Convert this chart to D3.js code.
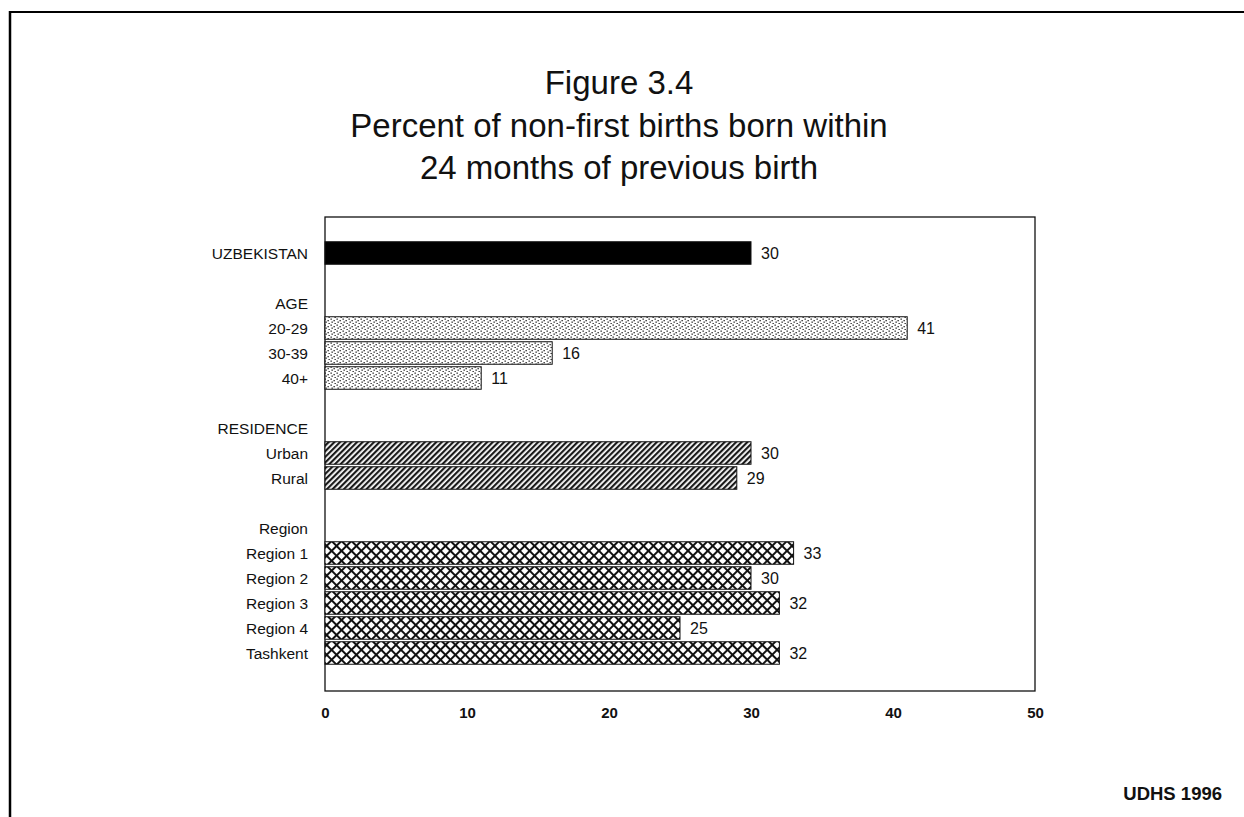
<!DOCTYPE html>
<html><head><meta charset="utf-8">
<script src="https://cdn.jsdelivr.net/npm/d3@7"></script>
<style>
html,body{margin:0;padding:0;background:#fff;}
svg{display:block;font-family:"Liberation Sans",Arial,sans-serif;}
</style></head>
<body>
<svg id="chart" width="1244" height="817"></svg>
<script>
// ---- data ----
const titleLines = ["Figure 3.4", "Percent of non-first births born within", "24 months of previous birth"];
const rowLabels = ["UZBEKISTAN", "", "AGE", "20-29", "30-39", "40+", "", "RESIDENCE", "Urban", "Rural", "", "Region", "Region 1", "Region 2", "Region 3", "Region 4", "Tashkent"];
const rowValues = [30, null, null, 41, 16, 11, null, null, 30, 29, null, null, 33, 30, 32, 25, 32];
const rowGroups = ["total", "", "", "age", "age", "age", "", "", "res", "res", "", "", "reg", "reg", "reg", "reg", "reg"];
const xTicks = [0, 10, 20, 30, 40, 50];
const sourceNote = "UDHS 1996";

const svg = d3.select("#chart");
const W = 1244, H = 817;
const plot = {left: 325, right: 1035, top: 217, bottom: 691};

// frame of the scanned page
svg.append("line").attr("x1", 10).attr("x2", W).attr("y1", 12).attr("y2", 12).attr("stroke", "#000").attr("stroke-width", 2);
svg.append("line").attr("x1", 10).attr("x2", 10).attr("y1", 11).attr("y2", H).attr("stroke", "#000").attr("stroke-width", 2.5);

// patterns
const defs = svg.append("defs");
// stipple (age)
const pDot = defs.append("pattern").attr("id", "dots").attr("patternUnits", "userSpaceOnUse").attr("width", 6).attr("height", 6);
pDot.append("rect").attr("width", 6).attr("height", 6).attr("fill", "#fff");
[[0.5,0.5],[3.5,2],[1.5,3.5],[4.5,5]].forEach(p => pDot.append("rect").attr("x", p[0]).attr("y", p[1]).attr("width", 1.3).attr("height", 1.3).attr("fill", "#222"));
// diagonal hatch (residence)
const pHatch = defs.append("pattern").attr("id", "hatch").attr("patternUnits", "userSpaceOnUse").attr("width", 4).attr("height", 4).attr("patternTransform", "rotate(45)");
pHatch.append("rect").attr("width", 4).attr("height", 4).attr("fill", "#fff");
pHatch.append("rect").attr("x", 0).attr("y", 0).attr("width", 2.2).attr("height", 4).attr("fill", "#1a1a1a");
// crosshatch (region)
const pCross = defs.append("pattern").attr("id", "cross").attr("patternUnits", "userSpaceOnUse").attr("width", 7).attr("height", 7).attr("patternTransform", "rotate(45)");
pCross.append("rect").attr("width", 7).attr("height", 7).attr("fill", "#fff");
pCross.append("rect").attr("x", 0).attr("y", 0).attr("width", 2).attr("height", 7).attr("fill", "#111");
pCross.append("rect").attr("x", 0).attr("y", 0).attr("width", 7).attr("height", 2).attr("fill", "#111");

const fills = {total: "#000", age: "url(#dots)", res: "url(#hatch)", reg: "url(#cross)"};

// title
const tY = [94, 137, 179];
titleLines.forEach((t, i) => {
  svg.append("text").attr("x", 619).attr("y", tY[i]).attr("text-anchor", "middle")
    .attr("font-size", 33).attr("fill", "#111").text(t);
});

// scales
const x = d3.scaleLinear().domain([0, 50]).range([plot.left, plot.right]);
const rows = rowLabels.map((l, i) => ({id: i, label: l, value: rowValues[i], group: rowGroups[i]}));
const y = d3.scaleBand().domain(rows.map(r => r.id)).range([240.5, 665.5]).paddingInner(0.1).paddingOuter(0.05);

// plot box
svg.append("rect").attr("x", plot.left).attr("y", plot.top).attr("width", plot.right - plot.left).attr("height", plot.bottom - plot.top)
  .attr("fill", "none").attr("stroke", "#111").attr("stroke-width", 1.3);

// bars
const bars = rows.filter(r => r.value !== null);
svg.append("g").selectAll("rect").data(bars).join("rect")
  .attr("x", x(0)).attr("y", d => y(d.id)).attr("width", d => x(d.value) - x(0)).attr("height", y.bandwidth())
  .attr("fill", d => fills[d.group]).attr("stroke", "#111").attr("stroke-width", 1);

// value labels
svg.append("g").selectAll("text").data(bars).join("text")
  .attr("x", d => x(d.value) + 10).attr("y", d => y(d.id) + y.bandwidth() / 2).attr("dy", "0.36em")
  .attr("font-size", 16).attr("fill", "#111").text(d => d.value);

// row labels
svg.append("g").selectAll("text").data(rows.filter(r => r.label)).join("text")
  .attr("x", 308).attr("y", d => y(d.id) + y.bandwidth() / 2).attr("dy", "0.36em").attr("text-anchor", "end")
  .attr("font-size", 15.5).attr("fill", "#111").text(d => d.label);

// x axis (labels only)
const ax = svg.append("g").attr("transform", `translate(0,${plot.bottom + 10})`)
  .call(d3.axisBottom(x).tickValues(xTicks).tickSize(0).tickFormat(d3.format("d")));
ax.select(".domain").remove();
ax.selectAll("text").attr("font-size", 15).attr("font-family", "Liberation Sans, Arial, sans-serif").attr("fill", "#111").attr("font-weight", "bold").attr("dy", "0.9em");

// source
svg.append("text").attr("x", 1222).attr("y", 800).attr("text-anchor", "end").attr("font-size", 18.5).attr("font-weight", "bold").attr("fill", "#111").text(sourceNote);
</script>
</body></html>
